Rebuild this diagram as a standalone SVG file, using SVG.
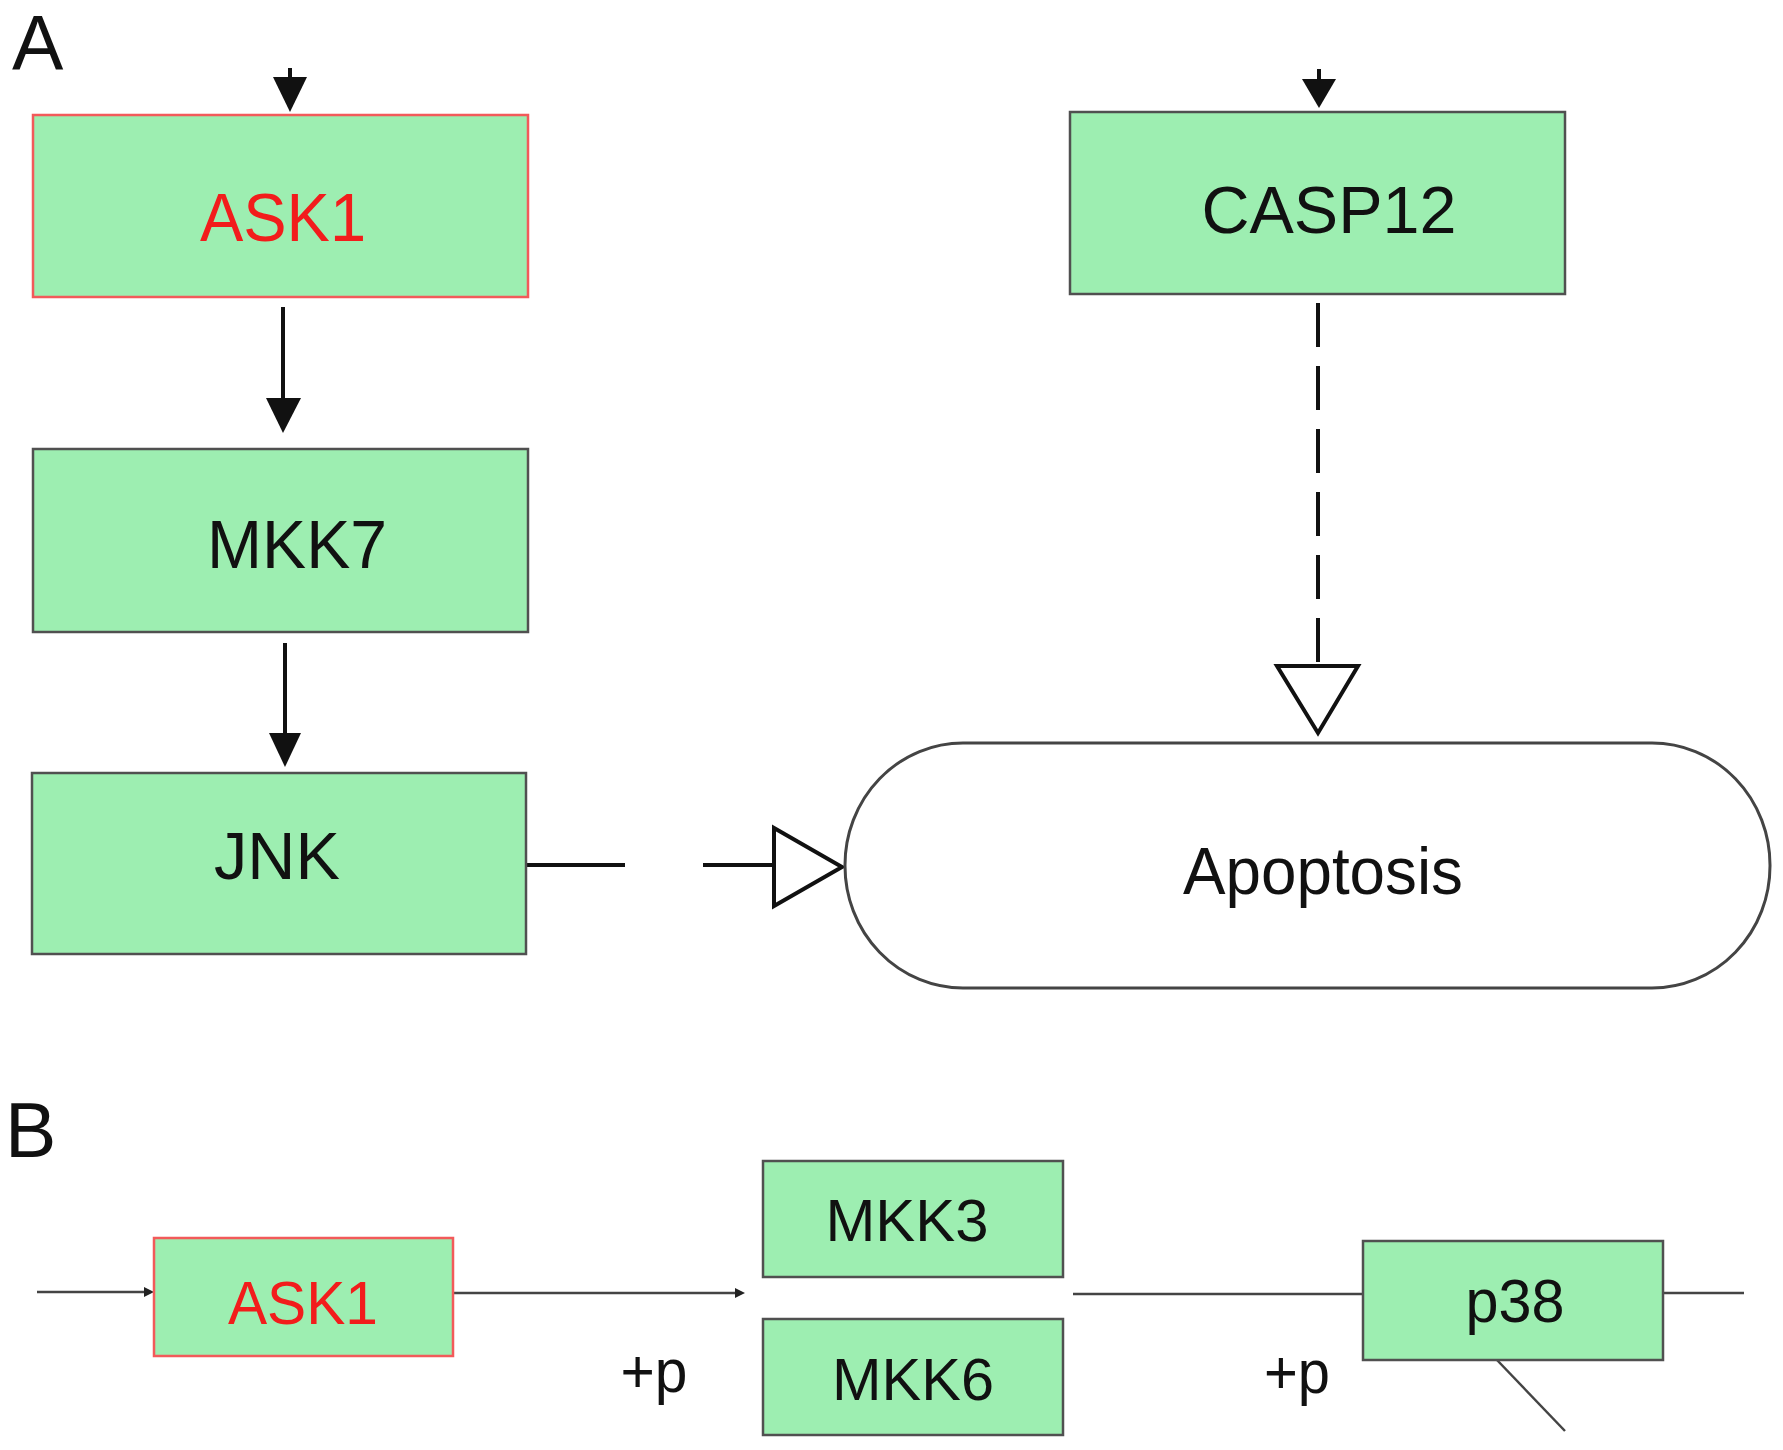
<svg xmlns="http://www.w3.org/2000/svg" width="1783" height="1450" viewBox="0 0 1783 1450">
<style>
.bg{fill:#ffffff}
.box{fill:#9deeb1;stroke:#505050;stroke-width:2.5}
.box.red{stroke:#f25a5a}
.t{font-family:"Liberation Sans",Arial,sans-serif;fill:#111;text-anchor:middle}
.t.redt{fill:#f21c1c}
.lbl{font-family:"Liberation Sans",Arial,sans-serif;fill:#111}
.thick{stroke:#111;stroke-width:4;fill:none}
.dash{stroke:#111;stroke-width:4;fill:none;stroke-dasharray:44 19}
.thin{stroke:#444;stroke-width:2.5;fill:none}
.head{fill:#111;stroke:none}
.ohead{fill:#fff;stroke:#111;stroke-width:4;stroke-linejoin:miter}
.shead{fill:#222;stroke:none}
.pill{fill:#fff;stroke:#444;stroke-width:3}
</style>
<rect class="bg" x="0" y="0" width="1783" height="1450"/>

<text class="lbl" x="12" y="70" font-size="77">A</text>
<text class="lbl" x="5" y="1157" font-size="77">B</text>

<g id="connectors">
  <line class="thick" x1="290" y1="68" x2="290" y2="80"/>
  <polygon class="head" points="273,77 307,77 290,112"/>
  <line class="thick" x1="283" y1="307" x2="283" y2="400"/>
  <polygon class="head" points="266,398 301,398 283,433"/>
  <line class="thick" x1="285" y1="643" x2="285" y2="735"/>
  <polygon class="head" points="269,733 301,733 285,767"/>
  <line class="thick" x1="1319" y1="69" x2="1319" y2="82"/>
  <polygon class="head" points="1302,79 1336,79 1319,108"/>
  <line class="dash" x1="1318" y1="303" x2="1318" y2="666"/>
  <polygon class="ohead" points="1277,666 1358,666 1318,733"/>
  <line class="thick" x1="525" y1="865" x2="625" y2="865"/>
  <line class="thick" x1="703" y1="865" x2="774" y2="865"/>
  <polygon class="ohead" points="774,828 774,906 842,867"/>
  <line class="thin" x1="37" y1="1292" x2="146" y2="1292"/>
  <polygon class="shead" points="144,1287 154,1292 144,1297"/>
  <line class="thin" x1="453" y1="1293" x2="737" y2="1293"/>
  <polygon class="shead" points="735,1288 745,1293 735,1298"/>
  <line class="thin" x1="1073" y1="1294" x2="1363" y2="1294"/>
  <line class="thin" x1="1663" y1="1293" x2="1744" y2="1293"/>
  <line class="thin" x1="1497" y1="1360" x2="1565" y2="1431"/>
</g>

<g id="node-ask1-a">
  <rect class="box red" x="33" y="115" width="495" height="182"/>
  <text class="t redt" x="283" y="241" font-size="68" textLength="166" lengthAdjust="spacingAndGlyphs">ASK1</text>
</g>
<g id="node-mkk7">
  <rect class="box" x="33" y="449" width="495" height="183"/>
  <text class="t" x="297" y="568" font-size="68" textLength="180" lengthAdjust="spacingAndGlyphs">MKK7</text>
</g>
<g id="node-jnk">
  <rect class="box" x="32" y="773" width="494" height="181"/>
  <text class="t" x="277" y="879" font-size="67" textLength="126" lengthAdjust="spacingAndGlyphs">JNK</text>
</g>
<g id="node-casp12">
  <rect class="box" x="1070" y="112" width="495" height="182"/>
  <text class="t" x="1329" y="233" font-size="67" textLength="255" lengthAdjust="spacingAndGlyphs">CASP12</text>
</g>
<g id="node-apoptosis">
  <rect class="pill" x="845" y="743" width="925" height="245" rx="118" ry="122"/>
  <text class="t" x="1323" y="894" font-size="66" textLength="280" lengthAdjust="spacingAndGlyphs">Apoptosis</text>
</g>
<g id="node-ask1-b">
  <rect class="box red" x="154" y="1238" width="299" height="118"/>
  <text class="t redt" x="303" y="1324" font-size="62" textLength="150" lengthAdjust="spacingAndGlyphs">ASK1</text>
</g>
<g id="node-mkk3">
  <rect class="box" x="763" y="1161" width="300" height="116"/>
  <text class="t" x="907" y="1241" font-size="60" textLength="163" lengthAdjust="spacingAndGlyphs">MKK3</text>
</g>
<g id="node-mkk6">
  <rect class="box" x="763" y="1319" width="300" height="116"/>
  <text class="t" x="913" y="1400" font-size="60" textLength="162" lengthAdjust="spacingAndGlyphs">MKK6</text>
</g>
<g id="node-p38">
  <rect class="box" x="1363" y="1241" width="300" height="119"/>
  <text class="t" x="1515" y="1322" font-size="61" textLength="99" lengthAdjust="spacingAndGlyphs">p38</text>
</g>
<g id="labels">
  <text class="t" x="654" y="1392" font-size="62" textLength="67" lengthAdjust="spacingAndGlyphs">+p</text>
  <text class="t" x="1297" y="1393" font-size="62" textLength="66" lengthAdjust="spacingAndGlyphs">+p</text>
</g>
</svg>
